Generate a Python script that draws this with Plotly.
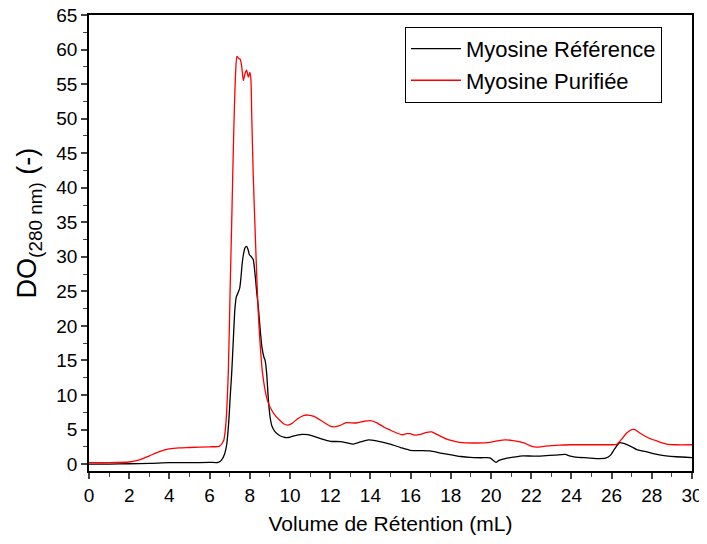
import plotly.graph_objects as go

# Myosine Purifiée (red)
pur_x = [0, 1, 2, 2.5, 3, 3.5, 4, 4.5, 5, 6, 6.5, 6.7, 6.8, 6.93, 7.02, 7.1, 7.2, 7.3, 7.36, 7.45, 7.52, 7.6, 7.68, 7.76, 7.84, 7.93, 8.0, 8.05, 8.1, 8.17, 8.25, 8.34, 8.42, 8.5, 8.62, 8.76, 8.9, 9.09, 9.3, 9.5, 9.7, 9.9, 10.1, 10.4, 10.7, 10.9, 11.2, 11.6, 12.0, 12.2, 12.5, 12.8, 13.3, 13.7, 14.0, 14.3, 14.7, 15.0, 15.3, 15.6, 15.8, 15.98, 16.2, 16.5, 16.8, 17.05, 17.3, 17.8, 18.2, 18.6, 19.2, 19.8, 20.3, 20.7, 21.1, 21.6, 22.0, 22.27, 22.7, 23.4, 24.0, 24.9, 25.6, 26.0, 26.25, 26.5, 26.75, 27.0, 27.16, 27.4, 27.9, 28.3, 28.74, 29.2, 30]
pur_y = [0.2, 0.2, 0.3, 0.6, 1.2, 1.8, 2.2, 2.35, 2.4, 2.5, 2.6, 3.4, 5.5, 13.2, 25, 35, 48, 57, 59, 58.7, 58.6, 57.5, 55.5, 56.5, 57, 56, 56.7, 55.9, 50, 42, 35, 27.7, 22, 18, 13.5, 10.7, 9, 7.8, 6.9, 6.3, 5.8, 5.65, 5.9, 6.6, 7.05, 7.1, 6.9, 6.2, 5.5, 5.4, 5.6, 6.0, 5.95, 6.2, 6.3, 6.0, 5.3, 4.9, 4.5, 4.25, 4.4, 4.4, 4.2, 4.3, 4.6, 4.65, 4.3, 3.6, 3.3, 3.1, 3.05, 3.1, 3.35, 3.5, 3.4, 3.1, 2.6, 2.45, 2.6, 2.75, 2.8, 2.8, 2.8, 2.8, 2.85, 3.6, 4.5, 5.0, 5.0, 4.5, 3.7, 3.3, 2.9, 2.8, 2.8]

# Myosine Référence (black)
ref_x = [0, 1, 2, 3, 4, 5, 6, 6.43, 6.6, 6.75, 6.85, 6.95, 7.02, 7.1, 7.18, 7.26, 7.33, 7.43, 7.5, 7.56, 7.62, 7.68, 7.76, 7.84, 7.92, 7.98, 8.08, 8.17, 8.26, 8.34, 8.43, 8.5, 8.6, 8.7, 8.76, 8.84, 8.92, 9.0, 9.1, 9.25, 9.5, 9.75, 9.92, 10.2, 10.6, 10.9, 11.2, 11.6, 12.0, 12.5, 12.8, 13.15, 13.5, 13.9, 14.3, 14.98, 15.5, 15.97, 16.5, 16.97, 17.5, 18.1, 18.5, 18.96, 19.5, 19.95, 20.1, 20.25, 20.4, 20.7, 21.1, 21.6, 22.1, 22.6, 23.2, 23.7, 23.9, 24.2, 24.8, 25.4, 25.7, 25.95, 26.15, 26.4, 26.6, 27.0, 27.25, 27.7, 28.25, 28.7, 29.2, 30]
ref_y = [0.0, 0.0, 0.05, 0.1, 0.2, 0.2, 0.25, 0.25, 0.6, 1.5, 2.8, 6, 9.5, 13.2, 18, 22.5, 24.2, 24.9, 25.5, 27, 29, 30.3, 31.3, 31.5, 31, 30.3, 30, 29.6, 27.5, 25, 22.5, 20, 17, 15.5, 15, 13.1, 9.5, 7.0, 5.5, 4.7, 4.1, 3.85, 3.85, 4.1, 4.3, 4.25, 4.0, 3.6, 3.3, 3.25, 3.1, 2.9, 3.2, 3.5, 3.35, 2.9, 2.4, 2.0, 1.95, 1.9, 1.6, 1.3, 1.1, 0.97, 0.92, 0.9, 0.55, 0.25, 0.55, 0.8, 1.0, 1.2, 1.15, 1.2, 1.3, 1.4, 1.2, 1.0, 0.9, 0.8, 0.85, 1.3, 2.2, 3.1, 3.0, 2.5, 2.1, 1.8, 1.4, 1.2, 1.06, 0.95]

series_names = ["Myosine Référence", "Myosine Purifiée"]
y_title = "DO<sub>(280 nm)</sub> (-)"
x_title = "Volume de Rétention (mL)"

fig = go.Figure()
fig.add_trace(go.Scatter(x=ref_x, y=ref_y, mode="lines", name=series_names[0],
                         line=dict(color="black", width=1.3, shape="spline", smoothing=0.6)))
fig.add_trace(go.Scatter(x=pur_x, y=pur_y, mode="lines", name=series_names[1],
                         line=dict(color="#ff0000", width=1.3, shape="spline", smoothing=0.6)))

font_family = "Liberation Sans, Arial, sans-serif"
fig.update_layout(
    width=707, height=544,
    margin=dict(l=81, r=23, t=7, b=81, autoexpand=False),
    paper_bgcolor="white", plot_bgcolor="white",
    font=dict(family=font_family, color="black", size=19),
    showlegend=True,
    legend=dict(x=0.524, y=0.974, xanchor="left", yanchor="top",
                bordercolor="black", borderwidth=1, bgcolor="white",
                font=dict(size=22, family=font_family), itemwidth=50,
                tracegroupgap=0),
    xaxis=dict(range=[0, 30], dtick=2, tick0=0, ticks="outside", ticklen=6, tickwidth=1.5,
               showline=True, linecolor="black", linewidth=1.5, mirror=True,
               showgrid=False, zeroline=False, automargin=False,
               ticklabeloverflow="allow",
               minor=dict(dtick=1, ticks="outside", ticklen=4, tickwidth=1.2, showgrid=False),
               tickfont=dict(size=19),
               title=dict(text=x_title, font=dict(size=21), standoff=12)),
    yaxis=dict(range=[-1, 65], dtick=5, tick0=0, ticks="outside", ticklen=6, tickwidth=1.5,
               showline=True, linecolor="black", linewidth=1.5, mirror=True,
               showgrid=False, zeroline=False, automargin=False,
               ticklabeloverflow="allow",
               minor=dict(dtick=2.5, tick0=0, ticks="outside", ticklen=4, tickwidth=1.2, showgrid=False),
               tickfont=dict(size=19)),
)
fig.add_annotation(text=y_title, textangle=-90, xref="paper", yref="paper",
                   x=-0.098, y=0.545, xanchor="center", yanchor="middle",
                   showarrow=False, font=dict(size=27, family=font_family, color="black"))

fig.write_html("out.html")
